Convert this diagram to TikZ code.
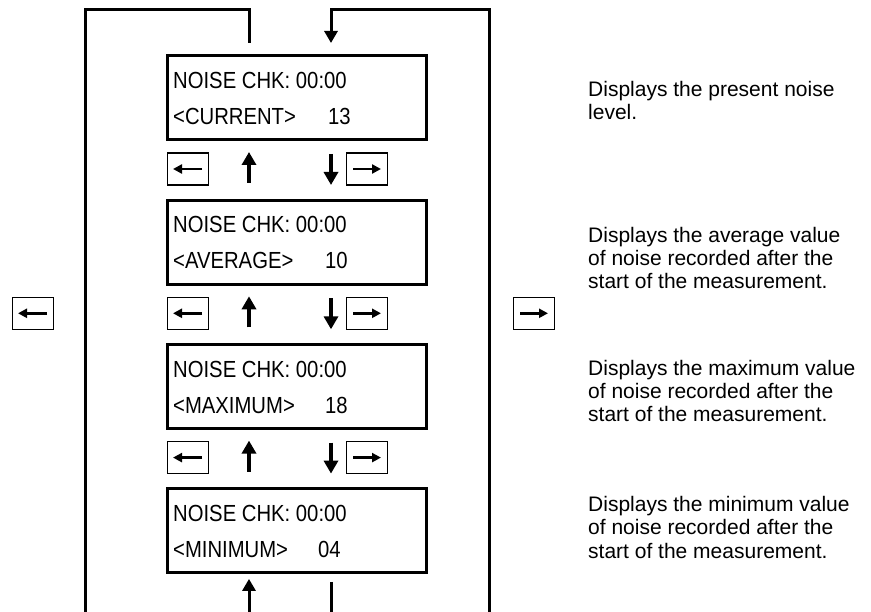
\documentclass[tikz,border=0pt]{standalone}
\usepackage{fontspec}
\setmainfont{Liberation Sans}
\newfontfamily\lcdfont[FakeStretch=0.87]{Liberation Sans}
\usetikzlibrary{calc,arrows.meta}

\tikzset{
  lcd/.style={draw, line width=3pt, minimum width=259pt, minimum height=84pt, inner sep=0pt, outer sep=0pt},
  lcdtext/.style={anchor=base west, inner sep=0pt, font=\lcdfont\fontsize{23.3}{28}\selectfont},
  keybox/.style={draw, line width=1.5pt, minimum width=41pt, minimum height=32pt, inner sep=0pt, outer sep=0pt},
  keyarr/.style={line width=2.5pt, -{Triangle[width=9pt,length=9pt]}},
  steparr/.style={line width=3.5pt, -{Triangle[width=14pt,length=13pt]}},
  looparr/.style={line width=3pt},
  loophead/.style={-{Triangle[width=13pt,length=12pt]}},
  desc/.style={anchor=base west, inner sep=0pt, align=left, font=\fontsize{21}{23.4}\selectfont},
}

\begin{document}
\begin{tikzpicture}[x=1pt, y=-1pt]
  \useasboundingbox (0,0) rectangle (871,612);
  \coordinate (upx) at (249,0);
  \coordinate (dnx) at (331,0);
  \coordinate (klx) at (188,0);
  \coordinate (krx) at (367,0);
  \coordinate (sidel) at (33,0);
  \coordinate (sider) at (534,0);

  \foreach \i/\mode/\val/\vx in {1/CURRENT/13/161, 2/AVERAGE/10/158, 3/MAXIMUM/18/158, 4/MINIMUM/04/151} {
    \node[lcd] (d\i) at (296.5,{98+144.3*(\i-1)}) {};
    \node[lcdtext] at ($(d\i.north west)+(6,32.6)$) {NOISE CHK: 00:00};
    \node[lcdtext] at ($(d\i.north west)+(6,68.6)$) {<\mode>};
    \node[lcdtext] at ($(d\i.north west)+(\vx,68.6)$) {\val};
  }

  \foreach \i in {1,2,3} {
    \node[keybox] (kl\i) at ($(d\i.south -| klx)+(0,29)$) {};
    \node[keybox] (kr\i) at ($(d\i.south -| krx)+(0,29)$) {};
    \draw[keyarr] ($(kl\i.center)+(14,0)$) -- ($(kl\i.center)+(-15,0)$);
    \draw[keyarr] ($(kr\i.center)+(-14,0)$) -- ($(kr\i.center)+(14,0)$);
    \draw[steparr] ($(kl\i.center -| upx)+(0,14)$) -- ($(kl\i.center -| upx)+(0,-17)$);
    \draw[steparr] ($(kr\i.center -| dnx)+(0,-15)$) -- ($(kr\i.center -| dnx)+(0,16)$);
  }

  \node[keybox] (ksl) at (kl2.center -| sidel) {};
  \node[keybox] (ksr) at (kr2.center -| sider) {};
  \draw[keyarr] ($(ksl.center)+(14,0)$) -- ($(ksl.center)+(-15,0)$);
  \draw[keyarr] ($(ksr.center)+(-14,0)$) -- ($(ksr.center)+(14,0)$);

  \draw[looparr] ($(d1.north -| upx)+(0,-13)$) |- (85,10) -- (85,612);
  \draw[looparr, loophead] (489,612) |- (331,10) -- ($(d1.north -| dnx)+(0,-13)$);
  \draw[looparr, loophead] (249,612) -- ($(d4.south -| upx)+(0,6)$);
  \draw[looparr] ($(d4.south -| dnx)+(0,9)$) -- (331,612);

  \node[desc] (t1) at (588,120) {Displays the present noise\\level.};
  \node[desc] (t2) at (588,289) {Displays the average value\\of noise recorded after the\\start of the measurement.};
  \node[desc] (t3) at (588,422) {Displays the maximum value\\of noise recorded after the\\start of the measurement.};
  \node[desc] (t4) at (588,558) {Displays the minimum value\\of noise recorded after the\\start of the measurement.};
\end{tikzpicture}
\end{document}
